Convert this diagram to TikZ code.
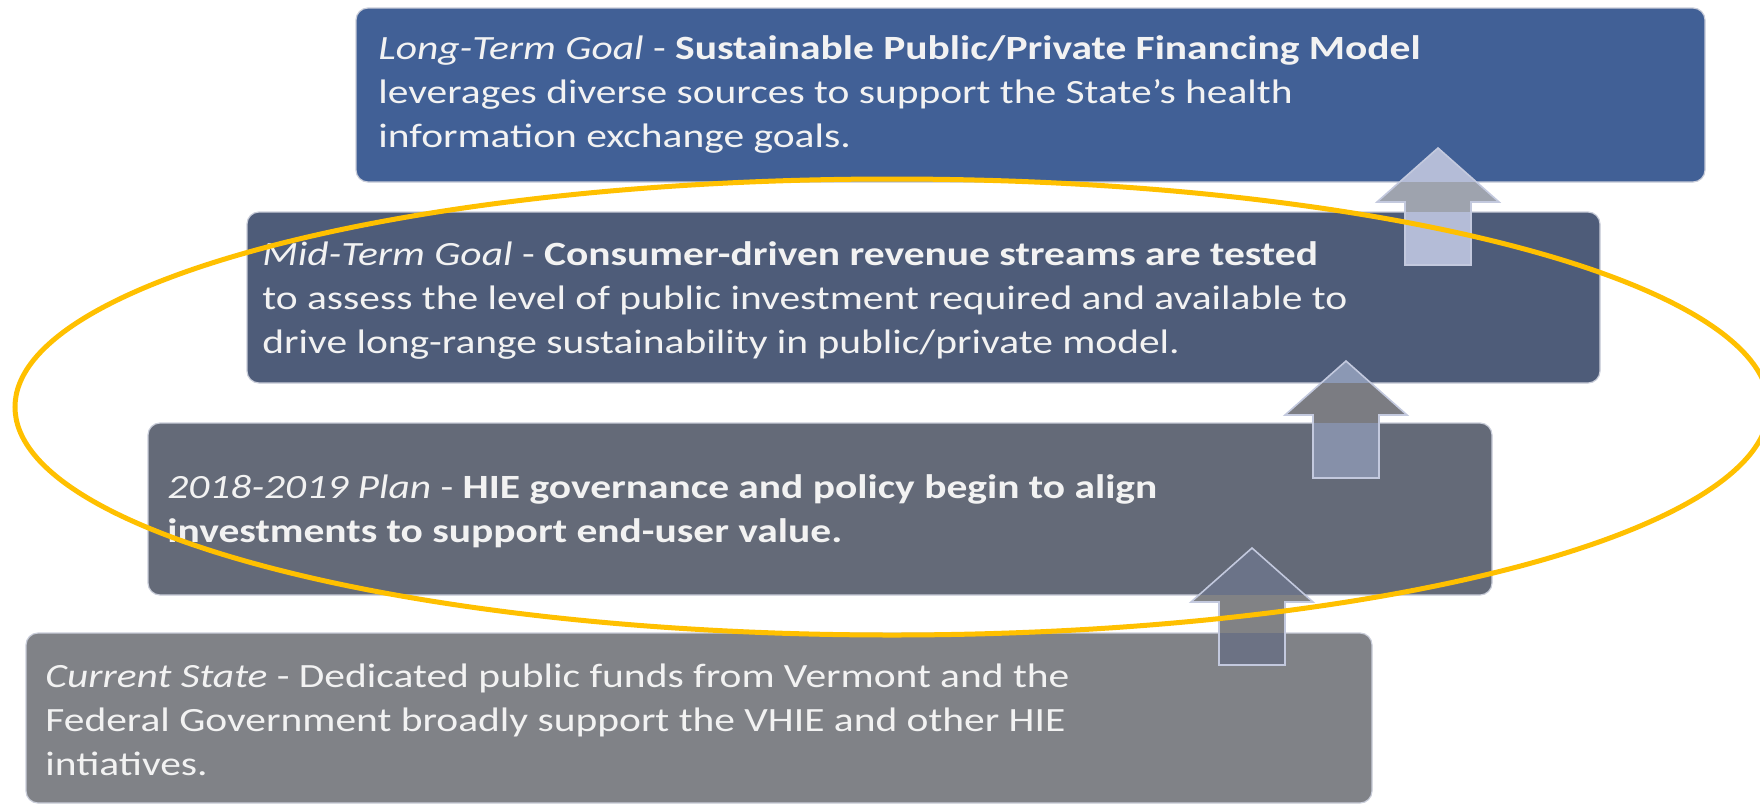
\documentclass[tikz,border=0pt]{standalone}
\usepackage{fontspec}
\setmainfont{Carlito}[FakeStretch=1.22]
\usetikzlibrary{positioning,fit}

\definecolor{longtermblue}{HTML}{416096}
\definecolor{midtermblue}{HTML}{4E5C79}
\definecolor{planslate}{HTML}{646A78}
\definecolor{currentgray}{HTML}{808287}
\definecolor{boxedge}{HTML}{C9CDD9}
\definecolor{ringyellow}{HTML}{FFC000}
\definecolor{arrowedge}{HTML}{C3C9DE}
\definecolor{toplav}{HTML}{B4BCD7}
\definecolor{topgap}{HTML}{9EA3AE}
\definecolor{midhead}{HTML}{8B98B4}
\definecolor{midgap}{HTML}{7B7C82}
\definecolor{midshaft}{HTML}{8690A9}
\definecolor{lowhead}{HTML}{6B7388}
\definecolor{lowgap}{HTML}{818285}
\definecolor{lowshaft}{HTML}{6C7284}

\tikzset{uparrow/.pic={
  \path[pic actions] (0,0) -- (61,54) -- (33,54) -- (33,117) -- (-33,117)
    -- (-33,54) -- (-61,54) -- cycle;}}

\begin{document}
\begin{tikzpicture}[x=0.5pt,y=-0.5pt,
  stagebox/.style={draw=boxedge,line width=0.6pt,rounded corners=6pt,inner sep=0pt},
  stagetext/.style={anchor=west,align=left,text=white!95!black,inner sep=0pt,
    font=\fontsize{17}{22}\selectfont},
  stagearrow/.style={draw=arrowedge,line width=0.8pt}]

  \useasboundingbox (0,0) rectangle (1760,804);

  % the four stages
  \node[stagebox,fill=longtermblue,fit={(356,8) (1705,182)}] (longterm) {};
  \node[stagebox,fill=midtermblue,fit={(247,212) (1600,383)}] (midterm) {};
  \node[stagebox,fill=planslate,fit={(148,423) (1492,595)}] (plan) {};
  \node[stagebox,fill=currentgray,fit={(26,633) (1372,803)}] (current) {};

  \node[stagetext] (longtermtext) at (378,94)
    {\textit{Long-Term Goal} - \textbf{Sustainable Public/Private Financing Model}\\
     leverages diverse sources to support the State’s health\\
     information exchange goals.};
  \node[stagetext] (midtermtext) at (262,300)
    {\textit{Mid-Term Goal} - \textbf{Consumer-driven revenue streams are tested}\\
     to assess the level of public investment required and available to\\
     drive long-range sustainability in public/private model.};
  \node[stagetext] (plantext) at (167,511)
    {\textit{2018-2019 Plan} - \textbf{HIE governance and policy begin to align}\\
     \textbf{investments to support end-user value.}};
  \node[stagetext] (currenttext) at (45,720)
    {\textit{Current State} - Dedicated public funds from Vermont and the\\
     Federal Government broadly support the VHIE and other HIE\\
     intiatives.};

  % step arrows: head over upper box, gap, shaft over lower box
  \foreach \tx/\ty/\ybot/\ytop/\ca/\cg/\cb in
    {1438/148/182/212/toplav/topgap/toplav,
     1346/361/383/423/midhead/midgap/midshaft,
     1252/548/595/633/lowhead/lowgap/lowshaft}
  {
    \begin{scope}
      \clip (0,0) rectangle (1760,\ybot);
      \pic[stagearrow,fill=\ca] at (\tx,\ty) {uparrow};
    \end{scope}
    \begin{scope}
      \clip (0,\ybot) rectangle (1760,\ytop);
      \pic[stagearrow,fill=\cg] at (\tx,\ty) {uparrow};
    \end{scope}
    \begin{scope}
      \clip (0,\ytop) rectangle (1760,804);
      \pic[stagearrow,fill=\cb] at (\tx,\ty) {uparrow};
    \end{scope}
  }

  % highlight ring
  \draw[ringyellow,line width=2.5pt] (892,407) ellipse [x radius=877,y radius=228];

\end{tikzpicture}
\end{document}
